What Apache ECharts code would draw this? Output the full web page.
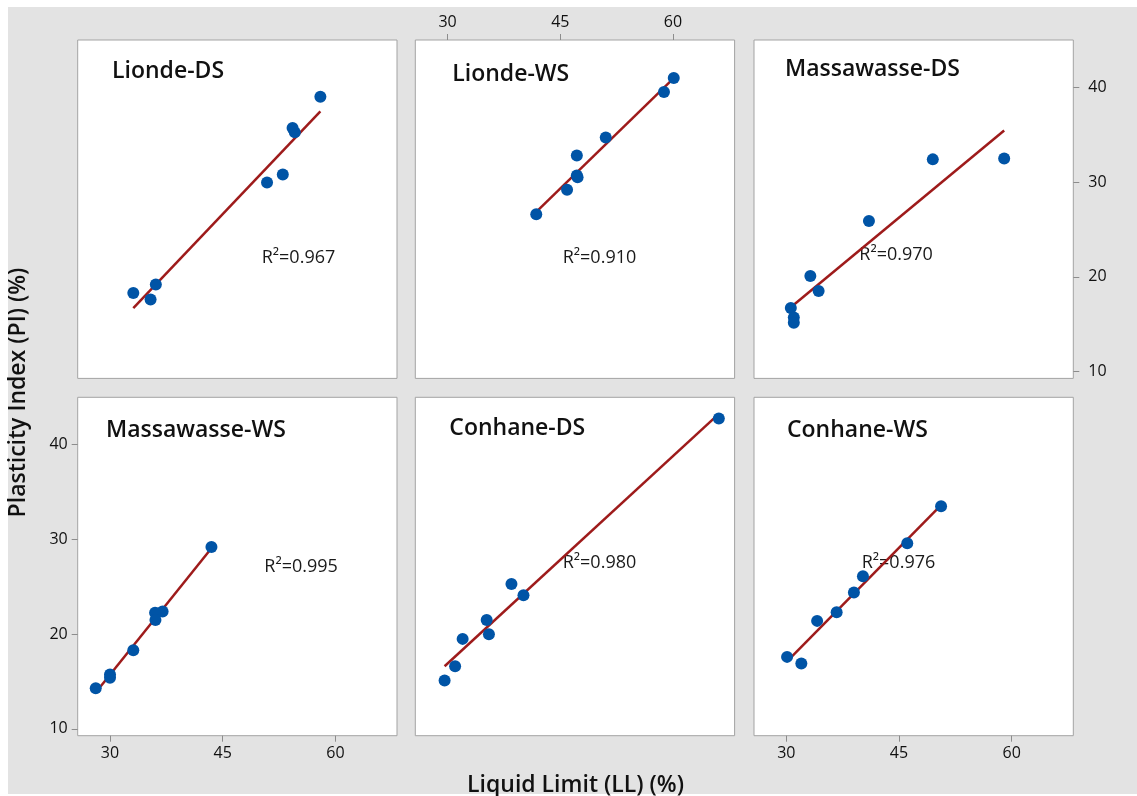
<!DOCTYPE html>
<html><head><meta charset="utf-8">
<script src="https://cdn.jsdelivr.net/npm/echarts@6/dist/echarts.min.js"></script>
<style>
html,body{margin:0;padding:0;background:#fff;}
#wrap{position:relative;width:1137px;height:796px;overflow:hidden;}
#bg{position:absolute;left:8px;top:7px;width:1129px;height:787px;background:#e3e3e3;}
#c{position:absolute;left:0;top:0;width:1137px;height:796px;}
</style>
</head><body><div id="wrap"><div id="bg"></div><div id="c"></div></div>
<script>
// ---------- data ----------
const sites = ['Lionde-DS', 'Lionde-WS', 'Massawasse-DS', 'Massawasse-WS', 'Conhane-DS', 'Conhane-WS'];
const r2Text = ['R\u00B2=0.967', 'R\u00B2=0.910', 'R\u00B2=0.970', 'R\u00B2=0.995', 'R\u00B2=0.980', 'R\u00B2=0.976'];

const llLiondeDS = [58.0, 54.3, 54.6, 53.0, 50.9, 36.1, 33.1, 35.4];
const piLiondeDS = [39.0, 35.7, 35.25, 30.8, 29.95, 19.2, 18.3, 17.6];

const llLiondeWS = [60.1, 58.8, 51.05, 47.2, 47.2, 47.3, 45.9, 41.8];
const piLiondeWS = [41.0, 39.5, 34.7, 32.8, 30.7, 30.5, 29.2, 26.6];

const llMassawasseDS = [59.0, 49.5, 41.0, 33.2, 34.3, 30.6, 31.0, 31.0];
const piMassawasseDS = [32.5, 32.4, 25.9, 20.1, 18.5, 16.7, 15.7, 15.15];

const llMassawasseWS = [43.5, 37.0, 36.0, 36.05, 33.1, 30.0, 30.0, 28.1];
const piMassawasseWS = [29.2, 22.4, 22.25, 21.5, 18.3, 15.75, 15.4, 14.3];

const llConhaneDS = [66.1, 40.1, 38.5, 35.2, 35.5, 32.0, 31.0, 29.6];
const piConhaneDS = [42.75, 24.1, 25.3, 21.5, 20.0, 19.5, 16.6, 15.1];

const llConhaneWS = [50.6, 46.1, 40.2, 39.0, 36.7, 34.1, 30.1, 32.0];
const piConhaneWS = [33.5, 29.6, 26.1, 24.4, 22.3, 21.4, 17.6, 16.9];

const xTicks = [30, 45, 60];
const yTicks = [10, 20, 30, 40];
const xTitle = 'Liquid Limit (LL) (%)';
const yTitle = 'Plasticity Index (PI) (%)';

const llSets = [llLiondeDS, llLiondeWS, llMassawasseDS, llMassawasseWS, llConhaneDS, llConhaneWS];
const piSets = [piLiondeDS, piLiondeWS, piMassawasseDS, piMassawasseWS, piConhaneDS, piConhaneWS];

// ---------- layout ----------
const colLeft = [77.7, 415.3, 754];
const rowTop = [40, 397.3];
const panelW = 319.3, panelH = 338.4;
const xMin = 25.7, xMax = 68.2, yMin = 9.28, yMax = 45.0;
// which panel shows which axis labels
const axisSides = [
  {x: null, y: null},
  {x: 'top', y: null},
  {x: null, y: 'right'},
  {x: 'bottom', y: 'left'},
  {x: null, y: null},
  {x: 'bottom', y: null}
];
const titleOffset = [[34.3, 34.7], [37, 38], [31, 33], [28.3, 36.2], [34, 34.5], [33, 36.9]];
const r2Offset = [[184, 220.6], [147.4, 220.6], [105.3, 217.8], [186.6, 172.5], [147.4, 168.4], [107.7, 168.4]];

const FONT = 'Open Sans';
const dotColor = '#0054A6';
const lineColor = '#9E1B1B';

function fit(xs, ys) {
  const n = xs.length;
  let mx = 0, my = 0;
  for (let i = 0; i < n; i++) { mx += xs[i]; my += ys[i]; }
  mx /= n; my /= n;
  let sxy = 0, sxx = 0;
  for (let i = 0; i < n; i++) { sxy += (xs[i] - mx) * (ys[i] - my); sxx += (xs[i] - mx) ** 2; }
  const b = sxy / sxx, a = my - b * mx;
  const lo = Math.min(...xs), hi = Math.max(...xs);
  return [[lo, a + b * lo], [hi, a + b * hi]];
}

const grids = [], xAxes = [], yAxes = [], series = [], graphics = [];
for (let i = 0; i < 6; i++) {
  const r = Math.floor(i / 3), c = i % 3;
  const L = colLeft[c], T = rowTop[r];
  grids.push({left: L, top: T, width: panelW, height: panelH, show: true,
    backgroundColor: '#ffffff', borderColor: '#a3a3a3', borderWidth: 1});
  const sx = axisSides[i].x, sy = axisSides[i].y;
  xAxes.push({
    gridIndex: i, type: 'value', min: xMin, max: xMax,
    position: sx || 'bottom',
    splitLine: {show: false}, axisLine: {show: false},
    axisTick: {show: !!sx, length: 6, customValues: xTicks, lineStyle: {color: '#8c8c8c'}},
    axisLabel: {show: !!sx, customValues: xTicks, margin: 10, fontFamily: FONT, fontSize: 16, color: '#111'}
  });
  yAxes.push({
    gridIndex: i, type: 'value', min: yMin, max: yMax,
    position: sy || 'left',
    splitLine: {show: false}, axisLine: {show: false},
    axisTick: {show: !!sy, length: 6, customValues: yTicks, lineStyle: {color: '#8c8c8c'}},
    axisLabel: {show: !!sy, customValues: yTicks, margin: sy === 'right' ? 15 : 10, fontFamily: FONT, fontSize: 16, color: '#111'}
  });
  series.push({
    type: 'line', xAxisIndex: i, yAxisIndex: i, data: fit(llSets[i], piSets[i]),
    symbol: 'none', lineStyle: {color: lineColor, width: 2.5}, z: 2, silent: true, animation: false
  });
  series.push({
    type: 'scatter', xAxisIndex: i, yAxisIndex: i,
    data: llSets[i].map((v, k) => [v, piSets[i][k]]),
    symbolSize: 12, itemStyle: {color: dotColor, opacity: 1}, z: 3, animation: false
  });
  graphics.push({type: 'text', left: L + titleOffset[i][0], top: T + titleOffset[i][1] - 15,
    style: {text: sites[i], fontFamily: FONT, fontSize: 23, fontWeight: 600, fill: '#111'}});
  graphics.push({type: 'text', left: L + r2Offset[i][0], top: T + r2Offset[i][1] - 12,
    style: {text: r2Text[i], fontFamily: FONT, fontSize: 18, fill: '#1a1a1a'}});
}
graphics.push({type: 'text', x: 575.5, y: 774, style: {text: xTitle, fontFamily: FONT, fontSize: 23, fontWeight: 600, fill: '#111', align: 'center'}});
graphics.push({type: 'text', x: 7, y: 392.5, rotation: Math.PI / 2,
  style: {text: yTitle, fontFamily: FONT, fontSize: 23, fontWeight: 600, fill: '#111', align: 'center', verticalAlign: 'top'}});

const chart = echarts.init(document.getElementById('c'), null, {renderer: 'canvas'});
chart.setOption({
  backgroundColor: 'transparent',
  animation: false,
  grid: grids, xAxis: xAxes, yAxis: yAxes, series: series, graphic: graphics
});
</script></body></html>
